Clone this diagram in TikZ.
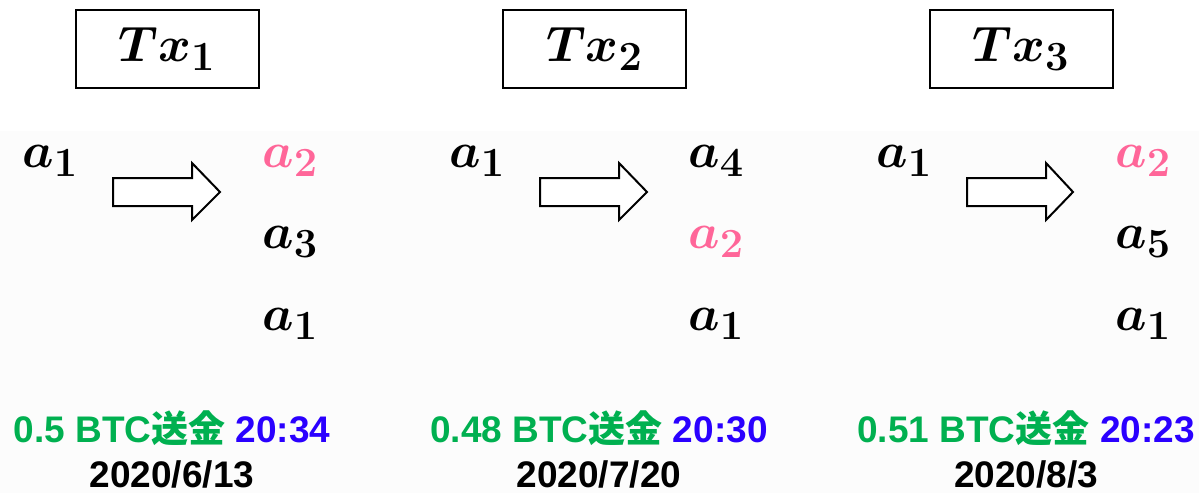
\documentclass[tikz,border=0pt]{standalone}
\usepackage[no-math]{fontspec}
\usepackage{bm}
\usepackage{xcolor}
\setmainfont{Liberation Sans}
\newfontfamily\jpfont{Noto Sans CJK JP}
\DeclareMathSizes{25}{25}{20}{15}
\definecolor{addrpink}{HTML}{FF6699}
\definecolor{sendgreen}{HTML}{00B050}
\definecolor{timeblue}{HTML}{2A00FF}

\begin{document}
\begin{tikzpicture}[
  x=0.5pt, y=-0.5pt,
  txbox/.style={draw, line width=1pt, minimum width=91.5pt, minimum height=39pt, inner sep=0pt, font=\fontsize{25}{30}\selectfont},
  addr/.style={anchor=base west, inner sep=0pt, font=\fontsize{25}{30}\selectfont},
  blockarr/.style={draw, line width=1pt, fill=white, line join=miter},
  amount/.style={anchor=base, inner sep=0pt, font=\fontsize{18.5}{22}\selectfont\bfseries}
]
  \useasboundingbox (0,0) rectangle (1199,493);
  \fill[black!1] (0,131) rectangle (1199,493);

  % transaction 1
  \node[txbox] (tx1) at (167,49) {$\bm{Tx_1}$};
  \node[addr] (in1) at (22,167) {$\bm{a_1}$};
  \draw[blockarr] (113,178) -- (192,178) -- (192,163) -- (220,192) -- (192,220) -- (192,206) -- (113,206) -- cycle;
  \node[addr, text=addrpink] (out11) at (262,167) {$\bm{a_2}$};
  \node[addr] (out12) at (262,248) {$\bm{a_3}$};
  \node[addr] (out13) at (262,330) {$\bm{a_1}$};
  \node[amount] (amt1) at (172,442) {\textcolor{sendgreen}{0.5 BTC{\jpfont\bfseries 送金}} \textcolor{timeblue}{20:34}};
  \node[amount] (date1) at (172,487) {2020/6/13};

  % transaction 2
  \node[txbox] (tx2) at (594.5,49) {$\bm{Tx_2}$};
  \node[addr] (in2) at (449,167) {$\bm{a_1}$};
  \draw[blockarr] (540,178) -- (619,178) -- (619,163) -- (647,192) -- (619,220) -- (619,206) -- (540,206) -- cycle;
  \node[addr] (out21) at (688,167) {$\bm{a_4}$};
  \node[addr, text=addrpink] (out22) at (688,248) {$\bm{a_2}$};
  \node[addr] (out23) at (688,330) {$\bm{a_1}$};
  \node[amount] (amt2) at (599,442) {\textcolor{sendgreen}{0.48 BTC{\jpfont\bfseries 送金}} \textcolor{timeblue}{20:30}};
  \node[amount] (date2) at (599,487) {2020/7/20};

  % transaction 3
  \node[txbox] (tx3) at (1021,49) {$\bm{Tx_3}$};
  \node[addr] (in3) at (876,167) {$\bm{a_1}$};
  \draw[blockarr] (967,178) -- (1046,178) -- (1046,163) -- (1073,192) -- (1046,220) -- (1046,206) -- (967,206) -- cycle;
  \node[addr, text=addrpink] (out31) at (1115,167) {$\bm{a_2}$};
  \node[addr] (out32) at (1115,248) {$\bm{a_5}$};
  \node[addr] (out33) at (1115,330) {$\bm{a_1}$};
  \node[amount] (amt3) at (1026,442) {\textcolor{sendgreen}{0.51 BTC{\jpfont\bfseries 送金}} \textcolor{timeblue}{20:23}};
  \node[amount] (date3) at (1026,487) {2020/8/3};
\end{tikzpicture}
\end{document}
